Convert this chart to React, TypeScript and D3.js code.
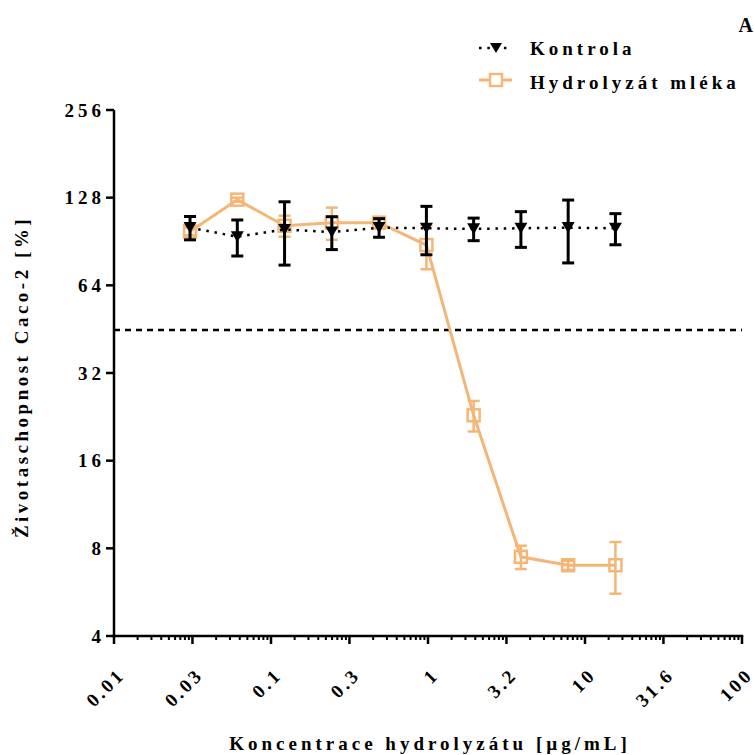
import React from 'react';
import * as d3 from 'd3';

const concentrations = [0.0305, 0.061, 0.122, 0.244, 0.488, 0.977, 1.953, 3.906, 7.8125, 15.625];
const kontrolaMean = [101, 94, 99.5, 97.5, 101, 100.5, 100, 100.5, 101, 100.5];
const kontrolaSD = [9.3, 13.3, 24.4, 12.6, 7.4, 19, 8.9, 14.1, 24.6, 12.3];
const hydrolyzatMean = [98, 126, 102.5, 105, 105, 88, 22.9, 7.48, 7.0, 7.0];
const hydrolyzatSD = [3, 2, 8.5, 13.3, 4.7, 15.3, 2.75, 0.69, 0.25, 1.41];
const yTicks = [4, 8, 16, 32, 64, 128, 256];
const xTickValues = [0.01, 0.0316, 0.1, 0.316, 1, 3.16, 10, 31.6, 100];
const xTickLabels = ['0.01', '0.03', '0.1', '0.3', '1', '3.2', '10', '31.6', '100'];
const thresholdValue = 45;
const seriesNames = ['Kontrola', 'Hydrolyzát mléka'];
const panelLetter = 'A';
const xTitle = 'Koncentrace hydrolyzátu [µg/mL]';
const yTitle = 'Životaschopnost Caco-2 [%]';

const ORANGE = '#F4B677';
const FONT = "'Liberation Serif', 'Times New Roman', serif";

export default function App() {
  const x = d3.scaleLog().domain([0.01, 100]).range([114, 742]);
  const y = d3.scaleLog().base(2).domain([4, 256]).range([636, 110]);

  // minor ticks: Prism-style pattern within each half-decade
  const minorTicks: number[] = [];
  for (let k = 0; k < 8; k++) {
    for (let m = 2; m <= 9; m++) {
      minorTicks.push(0.01 * Math.pow(10, (k + Math.log10(m)) / 2));
    }
  }

  const pts = concentrations.map((c, i) => ({
    c,
    k: kontrolaMean[i],
    kd: kontrolaSD[i],
    h: hydrolyzatMean[i],
    hd: hydrolyzatSD[i],
  }));

  const lineK = d3.line<any>().x((d) => x(d.c)).y((d) => y(d.k));
  const lineH = d3.line<any>().x((d) => x(d.c)).y((d) => y(d.h));

  const tri = (cx: number, cy: number, s = 6.5) =>
    `M${cx - s},${cy - s * 0.85} L${cx + s},${cy - s * 0.85} L${cx},${cy + s * 0.85} Z`;

  const cap = 6;
  const y0 = y(4);

  return (
    <svg width={755} height={755} style={{ position: 'absolute', left: 0, top: 0, background: '#fff' }}>
      <rect x={0} y={0} width={755} height={755} fill="#fff" />
      {/* panel letter */}
      <text x={753} y={32} textAnchor="end" fontFamily={FONT} fontWeight="bold" fontSize={20}>
        {panelLetter}
      </text>

      {/* legend */}
      <g>
        <line x1={479} x2={511} y1={48} y2={48} stroke="#000" strokeWidth={2.5} strokeDasharray="2.5 5.8" />
        <path d={tri(496, 48, 6)} fill="#000" />
        <text x={530} y={55} fontFamily={FONT} fontWeight="bold" fontSize={19} letterSpacing={4}>
          {seriesNames[0]}
        </text>
        <line x1={479} x2={512} y1={80} y2={80} stroke={ORANGE} strokeWidth={3} />
        <rect x={490} y={74} width={12} height={12} fill="#fff" stroke={ORANGE} strokeWidth={2.5} />
        <text x={530} y={89} fontFamily={FONT} fontWeight="bold" fontSize={19} letterSpacing={4}>
          {seriesNames[1]}
        </text>
      </g>

      {/* threshold dashed line */}
      <line
        x1={x(0.01)}
        x2={x(100)}
        y1={y(thresholdValue)}
        y2={y(thresholdValue)}
        stroke="#000"
        strokeWidth={2.5}
        strokeDasharray="6 5"
      />

      {/* y axis */}
      <line x1={114} x2={114} y1={y(256)} y2={y0 + 1.25} stroke="#000" strokeWidth={2.5} />
      {yTicks.map((t) => (
        <g key={t}>
          <line x1={106} x2={114} y1={y(t)} y2={y(t)} stroke="#000" strokeWidth={2.5} />
          <text
            x={105}
            y={y(t)}
            dy="0.35em"
            textAnchor="end"
            fontFamily={FONT}
            fontWeight="bold"
            fontSize={19}
            letterSpacing={4}
          >
            {t}
          </text>
        </g>
      ))}

      {/* x axis */}
      <line x1={112.75} x2={743.25} y1={y0} y2={y0} stroke="#000" strokeWidth={2.5} />
      {minorTicks.map((t, i) => (
        <line key={'m' + i} x1={x(t)} x2={x(t)} y1={y0} y2={y0 + 4} stroke="#000" strokeWidth={2} />
      ))}
      {xTickValues.map((t, i) => (
        <g key={'x' + i}>
          <line x1={x(t)} x2={x(t)} y1={y0} y2={y0 + 8} stroke="#000" strokeWidth={2.5} />
          <text
            transform={`translate(${x(t) + 12},${y0 + 40}) rotate(-45)`}
            textAnchor="end"
            fontFamily={FONT}
            fontWeight="bold"
            fontSize={19}
            letterSpacing={3}
          >
            {xTickLabels[i]}
          </text>
        </g>
      ))}

      {/* axis titles */}
      <text
        x={430}
        y={750}
        textAnchor="middle"
        fontFamily={FONT}
        fontWeight="bold"
        fontSize={19}
        letterSpacing={4}
      >
        {xTitle}
      </text>
      <text
        transform={`translate(28,377) rotate(-90)`}
        textAnchor="middle"
        fontFamily={FONT}
        fontWeight="bold"
        fontSize={19}
        letterSpacing={3.5}
      >
        {yTitle}
      </text>

      {/* Hydrolyzát series */}
      <path d={lineH(pts) || ''} fill="none" stroke={ORANGE} strokeWidth={3} />
      {pts.map((d, i) => (
        <g key={'h' + i} stroke={ORANGE} strokeWidth={2.5}>
          <line x1={x(d.c)} x2={x(d.c)} y1={y(d.h + d.hd)} y2={y(d.h - d.hd)} />
          <line x1={x(d.c) - cap} x2={x(d.c) + cap} y1={y(d.h + d.hd)} y2={y(d.h + d.hd)} />
          <line x1={x(d.c) - cap} x2={x(d.c) + cap} y1={y(d.h - d.hd)} y2={y(d.h - d.hd)} />
          <rect x={x(d.c) - 6} y={y(d.h) - 6} width={12} height={12} fill="none" />
        </g>
      ))}

      {/* Kontrola series */}
      <path d={lineK(pts) || ''} fill="none" stroke="#000" strokeWidth={2.5} strokeDasharray="2.5 5.8" />
      {pts.map((d, i) => (
        <g key={'k' + i}>
          <g stroke="#000" strokeWidth={3}>
            <line x1={x(d.c)} x2={x(d.c)} y1={y(d.k + d.kd)} y2={y(d.k - d.kd)} />
            <line x1={x(d.c) - cap} x2={x(d.c) + cap} y1={y(d.k + d.kd)} y2={y(d.k + d.kd)} />
            <line x1={x(d.c) - cap} x2={x(d.c) + cap} y1={y(d.k - d.kd)} y2={y(d.k - d.kd)} />
          </g>
          <path d={tri(x(d.c), y(d.k))} fill="#000" />
        </g>
      ))}
    </svg>
  );
}
